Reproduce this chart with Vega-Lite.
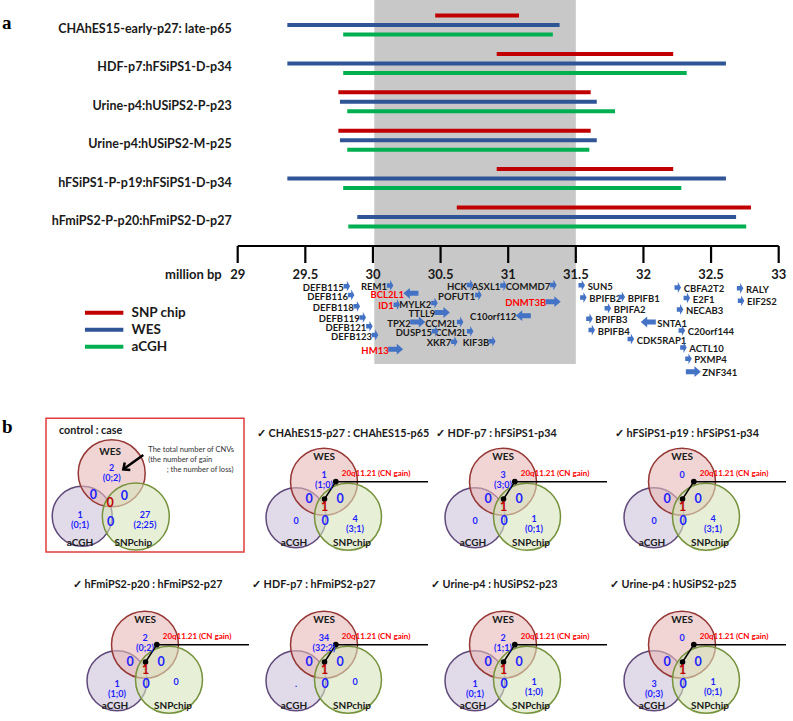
{
"$schema": "https://vega.github.io/schema/vega-lite/v6.json",
"padding": 0,
"background": "white",
"spacing": 0,
"bounds": "flush",
"config": {"view": {"stroke": null}, "axis": {"disable": true}, "font": "Lato", "text": {"font": "Lato"}},
"datasets": {
"cnv": [
{"sample":"CHAhES15-early-p27: late-p65","platform":"SNP chip","start":30.46,"end":31.08},
{"sample":"CHAhES15-early-p27: late-p65","platform":"WES","start":29.367,"end":31.38},
{"sample":"CHAhES15-early-p27: late-p65","platform":"aCGH","start":29.78,"end":31.33},
{"sample":"HDF-p7:hFSiPS1-D-p34","platform":"SNP chip","start":30.915,"end":32.22},
{"sample":"HDF-p7:hFSiPS1-D-p34","platform":"WES","start":29.367,"end":32.61},
{"sample":"HDF-p7:hFSiPS1-D-p34","platform":"aCGH","start":29.78,"end":32.32},
{"sample":"Urine-p4:hUSiPS2-P-p23","platform":"SNP chip","start":29.744,"end":31.61},
{"sample":"Urine-p4:hUSiPS2-P-p23","platform":"WES","start":29.756,"end":31.655},
{"sample":"Urine-p4:hUSiPS2-P-p23","platform":"aCGH","start":29.81,"end":31.79},
{"sample":"Urine-p4:hUSiPS2-M-p25","platform":"SNP chip","start":29.744,"end":31.61},
{"sample":"Urine-p4:hUSiPS2-M-p25","platform":"WES","start":29.756,"end":31.655},
{"sample":"Urine-p4:hUSiPS2-M-p25","platform":"aCGH","start":29.81,"end":31.6},
{"sample":"hFSiPS1-P-p19:hFSiPS1-D-p34","platform":"SNP chip","start":30.915,"end":32.22},
{"sample":"hFSiPS1-P-p19:hFSiPS1-D-p34","platform":"WES","start":29.367,"end":32.61},
{"sample":"hFSiPS1-P-p19:hFSiPS1-D-p34","platform":"aCGH","start":29.78,"end":32.28},
{"sample":"hFmiPS2-P-p20:hFmiPS2-D-p27","platform":"SNP chip","start":30.62,"end":32.795},
{"sample":"hFmiPS2-P-p20:hFmiPS2-D-p27","platform":"WES","start":29.884,"end":32.685},
{"sample":"hFmiPS2-P-p20:hFmiPS2-D-p27","platform":"aCGH","start":29.818,"end":32.76}
],
"ticks": [{"mb":29},{"mb":29.5},{"mb":30},{"mb":30.5},{"mb":31},{"mb":31.5},{"mb":32},{"mb":32.5},{"mb":33}],
"genes": [
{"g":"DEFB115","mb":29.806,"lane":4.42,"str":"+","side":"L","len":"short"},
{"g":"DEFB116","mb":29.838,"lane":5.3,"str":"+","side":"L","len":"short"},
{"g":"DEFB118","mb":29.88,"lane":6.43,"str":"+","side":"L","len":"short"},
{"g":"DEFB119","mb":29.924,"lane":7.55,"str":"+","side":"L","len":"short"},
{"g":"DEFB121","mb":29.973,"lane":8.43,"str":"+","side":"L","len":"short"},
{"g":"DEFB123","mb":30.015,"lane":9.3,"str":"+","side":"L","len":"short"},
{"g":"REM1","mb":30.126,"lane":4.35,"str":"+","side":"L","len":"short"},
{"g":"ID1","mb":30.176,"lane":6.27,"str":"+","side":"L","len":"short","hl":true},
{"g":"MYLK2","mb":30.454,"lane":6.1,"str":"+","side":"L","len":"short"},
{"g":"CCM2L","mb":30.644,"lane":8.0,"str":"+","side":"L","len":"short"},
{"g":"DUSP15","mb":30.459,"lane":8.93,"str":"+","side":"L","len":"short"},
{"g":"CCM2L","mb":30.718,"lane":8.93,"str":"+","side":"L","len":"short"},
{"g":"XKR7","mb":30.601,"lane":9.97,"str":"+","side":"L","len":"short"},
{"g":"KIF3B","mb":30.882,"lane":9.93,"str":"+","side":"L","len":"short"},
{"g":"HCK","mb":30.718,"lane":4.3,"str":"+","side":"L","len":"short"},
{"g":"ASXL1","mb":30.964,"lane":4.35,"str":"+","side":"L","len":"short"},
{"g":"POFUT1","mb":30.779,"lane":5.3,"str":"+","side":"L","len":"short"},
{"g":"COMMD7","mb":31.333,"lane":4.3,"str":"+","side":"L","len":"short"},
{"g":"HM13","mb":30.168,"lane":10.72,"str":"+","side":"L","len":"long","hl":true},
{"g":"BCL2L1","mb":30.281,"lane":5.13,"str":"-","side":"L","len":"long","hl":true},
{"g":"TTLL9","mb":30.513,"lane":7.05,"str":"+","side":"L","len":"long"},
{"g":"TPX2","mb":30.331,"lane":8.0,"str":"+","side":"L","len":"long"},
{"g":"C10orf112","mb":31.112,"lane":7.37,"str":"-","side":"L","len":"long"},
{"g":"DNMT3B","mb":31.333,"lane":5.97,"str":"+","side":"L","len":"long","hl":true},
{"g":"SUN5","mb":31.543,"lane":4.33,"str":"+","side":"R","len":"short"},
{"g":"BPIFB2","mb":31.555,"lane":5.55,"str":"+","side":"R","len":"short"},
{"g":"BPIFB1","mb":31.839,"lane":5.5,"str":"+","side":"R","len":"short"},
{"g":"BPIFA2","mb":31.736,"lane":6.63,"str":"+","side":"R","len":"short"},
{"g":"BPIFB3","mb":31.6,"lane":7.67,"str":"+","side":"R","len":"short"},
{"g":"BPIFB4","mb":31.617,"lane":8.8,"str":"+","side":"R","len":"short"},
{"g":"CDK5RAP1","mb":31.906,"lane":9.7,"str":"+","side":"R","len":"short"},
{"g":"CBFA2T2","mb":32.253,"lane":4.55,"str":"+","side":"R","len":"short"},
{"g":"E2F1","mb":32.32,"lane":5.6,"str":"+","side":"R","len":"short"},
{"g":"NECAB3","mb":32.27,"lane":6.75,"str":"+","side":"R","len":"short"},
{"g":"C20orf144","mb":32.283,"lane":8.85,"str":"+","side":"R","len":"short"},
{"g":"ACTL10","mb":32.295,"lane":10.55,"str":"+","side":"R","len":"short"},
{"g":"PXMP4","mb":32.332,"lane":11.68,"str":"+","side":"R","len":"short"},
{"g":"RALY","mb":32.714,"lane":4.63,"str":"+","side":"R","len":"short"},
{"g":"EIF2S2","mb":32.721,"lane":5.88,"str":"+","side":"R","len":"short"},
{"g":"SNTA1","mb":32.036,"lane":8.0,"str":"-","side":"R","len":"long"},
{"g":"ZNF341","mb":32.369,"lane":12.97,"str":"+","side":"R","len":"long"}
],
"layout": [
{"el":"WES","x":0,"y":0,"lx":0,"ly":-25},
{"el":"aCGH","x":-28,"y":36,"lx":-30,"ly":61},
{"el":"SNPchip","x":24,"y":35,"lx":28,"ly":61},
{"el":"W","x":0,"y":-7},
{"el":"WA","x":-15,"y":17},
{"el":"WS","x":16,"y":17},
{"el":"ALL","x":0.5,"y":25.5},
{"el":"AS","x":1,"y":39},
{"el":"A","x":-28,"y":39},
{"el":"S","x":31,"y":37},
{"el":"co1","x":0.5,"y":17.3},
{"el":"co2","x":11.8,"y":0},
{"el":"co3","x":104,"y":0},
{"el":"cn","x":17.8,"y":-7.3},
{"el":"title","x":-67,"y":-47.5},
{"el":"title2","x":-72,"y":-60},
{"el":"cWES","x":-33.3,"y":-8.4,"lx":-35,"ly":-30},
{"el":"caCGH","x":-62.8,"y":34.6,"lx":-65,"ly":61},
{"el":"cSNP","x":-9.2,"y":34.8,"lx":-11.7,"ly":61},
{"el":"cW","x":-33.3,"y":-13.9},
{"el":"cWA","x":-51.7,"y":13.3},
{"el":"cWS","x":-20.7,"y":14},
{"el":"cALL","x":-35,"y":21.6},
{"el":"cAS","x":-34.3,"y":40},
{"el":"cA","x":-65,"y":33},
{"el":"cS","x":0,"y":33},
{"el":"ar1","x":-1.7,"y":-26.7},
{"el":"ar2","x":-21.7,"y":-12.4},
{"el":"ann1","x":3.3,"y":-31.7},
{"el":"ann2","x":3.3,"y":-21.7},
{"el":"ann3","x":21.7,"y":-11.7},
{"el":"box","x":-99,"y":-63.4,"x2":99,"y2":70.3},
{"el":"ctitle","x":-86,"y":-51},
{"el":"b","x":-143,"y":-55}
],
"venn": [
{"d":"p1","k":"set","el":"caCGH","s":"aCGH"},
{"d":"p1","k":"set","el":"cWES","s":"WES"},
{"d":"p1","k":"set","el":"cSNP","s":"SNPchip"},
{"d":"p1","k":"n","el":"cW","t":"2\n(0;2)"},
{"d":"p1","k":"n","el":"cWA","t":"0"},
{"d":"p1","k":"n","el":"cWS","t":"0"},
{"d":"p1","k":"n","el":"cALL","t":"0"},
{"d":"p1","k":"n","el":"cAS","t":"0"},
{"d":"p1","k":"n","el":"cA","t":"1\n(0;1)"},
{"d":"p1","k":"n","el":"cS","t":"27\n(2;25)"},
{"d":"p1","k":"title","el":"ctitle","t":"control : case"},
{"d":"p1","k":"ar","el":"ar1"},
{"d":"p1","k":"ar","el":"ar2"},
{"d":"p1","k":"ann","el":"ann1","t":"The total number of CNVs"},
{"d":"p1","k":"ann","el":"ann2","t":"(the number of gain"},
{"d":"p1","k":"ann","el":"ann3","t":"; the number of loss)"},
{"d":"p1","k":"box","el":"box"},
{"d":"p1","k":"plabel","el":"b","t":"b"},

{"d":"p2","k":"title","el":"title","t":"✓ CHAhES15-p27 : CHAhES15-p65"},
{"d":"p2","k":"set","el":"aCGH","s":"aCGH"},{"d":"p2","k":"set","el":"WES","s":"WES"},{"d":"p2","k":"set","el":"SNPchip","s":"SNPchip"},
{"d":"p2","k":"n","el":"W","t":"1\n(1;0)"},{"d":"p2","k":"n","el":"WA","t":"0"},{"d":"p2","k":"n","el":"WS","t":"0"},{"d":"p2","k":"n","el":"ALL","t":"1"},{"d":"p2","k":"n","el":"AS","t":"0"},{"d":"p2","k":"n","el":"A","t":"0"},{"d":"p2","k":"n","el":"S","t":"4\n(3;1)"},
{"d":"p2","k":"co","el":"co1"},{"d":"p2","k":"co","el":"co2"},{"d":"p2","k":"co","el":"co3"},{"d":"p2","k":"cn","el":"cn","t":"20q11.21 (CN gain)"},

{"d":"p3","k":"title","el":"title","t":"✓ HDF-p7 : hFSiPS1-p34"},
{"d":"p3","k":"set","el":"aCGH","s":"aCGH"},{"d":"p3","k":"set","el":"WES","s":"WES"},{"d":"p3","k":"set","el":"SNPchip","s":"SNPchip"},
{"d":"p3","k":"n","el":"W","t":"3\n(3;0)"},{"d":"p3","k":"n","el":"WA","t":"0"},{"d":"p3","k":"n","el":"WS","t":"0"},{"d":"p3","k":"n","el":"ALL","t":"1"},{"d":"p3","k":"n","el":"AS","t":"0"},{"d":"p3","k":"n","el":"A","t":"0"},{"d":"p3","k":"n","el":"S","t":"1\n(0;1)"},
{"d":"p3","k":"co","el":"co1"},{"d":"p3","k":"co","el":"co2"},{"d":"p3","k":"co","el":"co3"},{"d":"p3","k":"cn","el":"cn","t":"20q11.21 (CN gain)"},

{"d":"p4","k":"title","el":"title","t":"✓ hFSiPS1-p19 : hFSiPS1-p34"},
{"d":"p4","k":"set","el":"aCGH","s":"aCGH"},{"d":"p4","k":"set","el":"WES","s":"WES"},{"d":"p4","k":"set","el":"SNPchip","s":"SNPchip"},
{"d":"p4","k":"n","el":"W","t":"0"},{"d":"p4","k":"n","el":"WA","t":"0"},{"d":"p4","k":"n","el":"WS","t":"0"},{"d":"p4","k":"n","el":"ALL","t":"1"},{"d":"p4","k":"n","el":"AS","t":"0"},{"d":"p4","k":"n","el":"A","t":"0"},{"d":"p4","k":"n","el":"S","t":"4\n(3;1)"},
{"d":"p4","k":"co","el":"co1"},{"d":"p4","k":"co","el":"co2"},{"d":"p4","k":"co","el":"co3"},{"d":"p4","k":"cn","el":"cn","t":"20q11.21 (CN gain)"},

{"d":"p5","k":"title","el":"title2","t":"✓ hFmiPS2-p20 : hFmiPS2-p27"},
{"d":"p5","k":"set","el":"aCGH","s":"aCGH"},{"d":"p5","k":"set","el":"WES","s":"WES"},{"d":"p5","k":"set","el":"SNPchip","s":"SNPchip"},
{"d":"p5","k":"n","el":"W","t":"2\n(0;2)"},{"d":"p5","k":"n","el":"WA","t":"0"},{"d":"p5","k":"n","el":"WS","t":"0"},{"d":"p5","k":"n","el":"ALL","t":"1"},{"d":"p5","k":"n","el":"AS","t":"0"},{"d":"p5","k":"n","el":"A","t":"1\n(1;0)"},{"d":"p5","k":"n","el":"S","t":"0"},
{"d":"p5","k":"co","el":"co1"},{"d":"p5","k":"co","el":"co2"},{"d":"p5","k":"co","el":"co3"},{"d":"p5","k":"cn","el":"cn","t":"20q11.21 (CN gain)"},

{"d":"p6","k":"title","el":"title2","t":"✓ HDF-p7 : hFmiPS2-p27"},
{"d":"p6","k":"set","el":"aCGH","s":"aCGH"},{"d":"p6","k":"set","el":"WES","s":"WES"},{"d":"p6","k":"set","el":"SNPchip","s":"SNPchip"},
{"d":"p6","k":"n","el":"W","t":"34\n(32;2)"},{"d":"p6","k":"n","el":"WA","t":"0"},{"d":"p6","k":"n","el":"WS","t":"0"},{"d":"p6","k":"n","el":"ALL","t":"1"},{"d":"p6","k":"n","el":"AS","t":"0"},{"d":"p6","k":"n","el":"A","t":"."},{"d":"p6","k":"n","el":"S","t":"0"},
{"d":"p6","k":"co","el":"co1"},{"d":"p6","k":"co","el":"co2"},{"d":"p6","k":"co","el":"co3"},{"d":"p6","k":"cn","el":"cn","t":"20q11.21 (CN gain)"},

{"d":"p7","k":"title","el":"title2","t":"✓ Urine-p4 : hUSiPS2-p23"},
{"d":"p7","k":"set","el":"aCGH","s":"aCGH"},{"d":"p7","k":"set","el":"WES","s":"WES"},{"d":"p7","k":"set","el":"SNPchip","s":"SNPchip"},
{"d":"p7","k":"n","el":"W","t":"2\n(1;1)"},{"d":"p7","k":"n","el":"WA","t":"0"},{"d":"p7","k":"n","el":"WS","t":"0"},{"d":"p7","k":"n","el":"ALL","t":"1"},{"d":"p7","k":"n","el":"AS","t":"0"},{"d":"p7","k":"n","el":"A","t":"1\n(0;1)"},{"d":"p7","k":"n","el":"S","t":"1\n(1;0)"},
{"d":"p7","k":"co","el":"co1"},{"d":"p7","k":"co","el":"co2"},{"d":"p7","k":"co","el":"co3"},{"d":"p7","k":"cn","el":"cn","t":"20q11.21 (CN gain)"},

{"d":"p8","k":"title","el":"title2","t":"✓ Urine-p4 : hUSiPS2-p25"},
{"d":"p8","k":"set","el":"aCGH","s":"aCGH"},{"d":"p8","k":"set","el":"WES","s":"WES"},{"d":"p8","k":"set","el":"SNPchip","s":"SNPchip"},
{"d":"p8","k":"n","el":"W","t":"0"},{"d":"p8","k":"n","el":"WA","t":"0"},{"d":"p8","k":"n","el":"WS","t":"0"},{"d":"p8","k":"n","el":"ALL","t":"1"},{"d":"p8","k":"n","el":"AS","t":"0"},{"d":"p8","k":"n","el":"A","t":"3\n(0;3)"},{"d":"p8","k":"n","el":"S","t":"1\n(0;1)"},
{"d":"p8","k":"co","el":"co1"},{"d":"p8","k":"co","el":"co2"},{"d":"p8","k":"co","el":"co3"},{"d":"p8","k":"cn","el":"cn","t":"20q11.21 (CN gain)"}
]
},
"vconcat": [
{
"width": 793, "height": 242,
"title": {"text": "a", "anchor": "start", "frame": "group", "offset": -27, "dx": 2, "dy": 21, "baseline": "alphabetic", "font": "Liberation Serif", "fontSize": 19, "fontWeight": "bold", "color": "#000000"},
"data": {"name": "cnv"},
"layer": [
{"data": {"values": [{"start": 30.01, "end": 31.5}]},
 "mark": {"type": "rect", "color": "#c8c8c8"},
 "encoding": {"x": {"field": "start", "type": "quantitative", "scale": {"domain": [27.2425, 33.1058], "nice": false, "zero": false}, "axis": null}, "x2": {"field": "end"}}},
{"mark": {"type": "bar"},
 "encoding": {
  "x": {"field": "start", "type": "quantitative", "axis": null},
  "x2": {"field": "end"},
  "y": {"field": "sample", "type": "nominal", "axis": null, "scale": {"domain": ["CHAhES15-early-p27: late-p65","HDF-p7:hFSiPS1-D-p34","Urine-p4:hUSiPS2-P-p23","Urine-p4:hUSiPS2-M-p25","hFSiPS1-P-p19:hFSiPS1-D-p34","hFmiPS2-P-p20:hFmiPS2-D-p27"], "paddingInner": 0, "paddingOuter": 0.152}},
  "yOffset": {"field": "platform", "type": "nominal", "scale": {"domain": ["SNP chip","WES","aCGH"], "paddingInner": 0.579, "paddingOuter": 0.807}},
  "color": {"field": "platform", "type": "nominal", "scale": {"domain": ["SNP chip","WES","aCGH"], "range": ["#c00000","#2f5597","#00b050"]},
   "legend": {"orient": "none", "legendX": 97.4, "legendY": 306, "title": null, "symbolType": "M-3.2,-0.35L3.2,-0.35L3.2,0.35L-3.2,0.35Z", "symbolSize": 144, "symbolStrokeWidth": 0, "symbolOpacity": 1, "labelOffset": 20.6, "labelFont": "Lato", "labelFontSize": 13.5, "labelFontWeight": "bold", "labelColor": "#1a1a1a", "rowPadding": 2, "padding": 0}}
 }},
{"transform": [{"filter": "datum.platform == 'WES'"}],
 "mark": {"type": "text", "align": "right", "baseline": "middle", "dx": -6, "dy": 4, "fontSize": 12.5, "fontWeight": "bold", "color": "#1a1a1a", "font": "Lato"},
 "encoding": {"x": {"datum": 29, "type": "quantitative", "axis": null}, "y": {"field": "sample", "type": "nominal", "axis": null}, "text": {"field": "sample"}}}
]
},
{
"width": 793, "height": 133,
"data": {"name": "genes"},
"layer": [
{"data": {"values": [{"start": 30.01, "end": 31.5}]},
 "mark": {"type": "rect", "color": "#c8c8c8"},
 "encoding": {"x": {"field": "start", "type": "quantitative", "scale": {"domain": [27.2425, 33.1058], "nice": false, "zero": false}, "axis": null}, "x2": {"field": "end"},
  "y": {"datum": 0, "type": "quantitative", "scale": {"domain": [0, 13.3], "reverse": true, "nice": false, "zero": false}, "axis": null}, "y2": {"datum": 12.2}}},
{"data": {"values": [{"from": 29, "to": 33}]},
 "mark": {"type": "rule", "color": "#000000", "strokeWidth": 2.2},
 "encoding": {"x": {"field": "from", "type": "quantitative", "axis": null}, "x2": {"field": "to"}, "y": {"datum": 0.4, "type": "quantitative", "axis": null}}},
{"data": {"name": "ticks"},
 "mark": {"type": "rule", "color": "#000000", "strokeWidth": 2.2},
 "encoding": {"x": {"field": "mb", "type": "quantitative", "axis": null}, "y": {"datum": 0.4, "type": "quantitative", "axis": null}, "y2": {"datum": 2.1}}},
{"data": {"name": "ticks"},
 "mark": {"type": "text", "fontSize": 13, "fontWeight": "bold", "color": "#1a1a1a"},
 "encoding": {"x": {"field": "mb", "type": "quantitative", "axis": null}, "y": {"datum": 3.3, "type": "quantitative", "axis": null}, "text": {"field": "mb", "type": "nominal"}}},
{"data": {"values": [{"unit": "million bp"}]},
 "mark": {"type": "text", "align": "right", "dx": -16, "fontSize": 13, "fontWeight": "bold", "color": "#1a1a1a"},
 "encoding": {"x": {"datum": 29, "type": "quantitative", "axis": null}, "y": {"datum": 3.3, "type": "quantitative", "axis": null}, "text": {"field": "unit"}}},
{"transform": [{"filter": "datum.side == 'L' && datum.len == 'short'"}],
 "mark": {"type": "text", "align": "right", "dx": -3, "dy": 1.5, "fontSize": 9.5, "fontWeight": "bold"},
 "encoding": {"x": {"field": "mb", "type": "quantitative", "axis": null}, "y": {"field": "lane", "type": "quantitative", "axis": null}, "text": {"field": "g"},
  "color": {"condition": {"test": "datum.hl", "value": "#ff0000"}, "value": "#1a1a1a"}}},
{"transform": [{"filter": "datum.side == 'L' && datum.len == 'long'"}],
 "mark": {"type": "text", "align": "right", "dx": -7, "dy": 1.5, "fontSize": 9.5, "fontWeight": "bold"},
 "encoding": {"x": {"field": "mb", "type": "quantitative", "axis": null}, "y": {"field": "lane", "type": "quantitative", "axis": null}, "text": {"field": "g"},
  "color": {"condition": {"test": "datum.hl", "value": "#ff0000"}, "value": "#1a1a1a"}}},
{"transform": [{"filter": "datum.side == 'R' && datum.len == 'short'"}],
 "mark": {"type": "text", "align": "left", "dx": 6, "dy": 1.5, "fontSize": 9.5, "fontWeight": "bold"},
 "encoding": {"x": {"field": "mb", "type": "quantitative", "axis": null}, "y": {"field": "lane", "type": "quantitative", "axis": null}, "text": {"field": "g"},
  "color": {"condition": {"test": "datum.hl", "value": "#ff0000"}, "value": "#1a1a1a"}}},
{"transform": [{"filter": "datum.side == 'R' && datum.len == 'long'"}],
 "mark": {"type": "text", "align": "left", "dx": 9, "dy": 1.5, "fontSize": 9.5, "fontWeight": "bold"},
 "encoding": {"x": {"field": "mb", "type": "quantitative", "axis": null}, "y": {"field": "lane", "type": "quantitative", "axis": null}, "text": {"field": "g"},
  "color": {"condition": {"test": "datum.hl", "value": "#ff0000"}, "value": "#1a1a1a"}}},
{"transform": [{"filter": "datum.str == '+'"}],
 "mark": {"type": "point", "filled": true, "color": "#4472c4", "opacity": 1, "size": 225, "strokeWidth": 0},
 "encoding": {"x": {"field": "mb", "type": "quantitative", "axis": null}, "y": {"field": "lane", "type": "quantitative", "axis": null},
  "shape": {"field": "len", "type": "nominal", "scale": {"domain": ["long","short"], "range": ["M-1,-0.33L0.15,-0.33L0.15,-0.72L1,0L0.15,0.72L0.15,0.33L-1,0.33Z", "M-0.42,-0.3L0.02,-0.3L0.02,-0.72L0.45,0L0.02,0.72L0.02,0.3L-0.42,0.3Z"]}, "legend": null}}},
{"transform": [{"filter": "datum.str == '-'"}],
 "mark": {"type": "point", "filled": true, "color": "#4472c4", "opacity": 1, "size": 225, "strokeWidth": 0, "angle": 180, "shape": "M-1,-0.33L0.15,-0.33L0.15,-0.72L1,0L0.15,0.72L0.15,0.33L-1,0.33Z"},
 "encoding": {"x": {"field": "mb", "type": "quantitative", "axis": null}, "y": {"field": "lane", "type": "quantitative", "axis": null}}}
]
},
{
"data": {"name": "venn"},
"transform": [{"lookup": "el", "from": {"data": {"name": "layout"}, "key": "el", "fields": ["x","y","x2","y2","lx","ly"]}}],
"facet": {"field": "d", "type": "nominal", "header": {"title": null, "labelExpr": "''", "labelFontSize": 0, "labelPadding": 0}},
"columns": 4,
"spacing": {"row": 0, "column": 0},
"bounds": "flush",
"spec": {
"width": 179, "height": 163,
"encoding": {
 "x": {"field": "x", "type": "quantitative", "scale": {"domain": [-145, 34], "nice": false, "zero": false}, "axis": null},
 "y": {"field": "y", "type": "quantitative", "scale": {"domain": [-106.7, 56.3], "reverse": true, "nice": false, "zero": false}, "axis": null}
},
"layer": [
{"transform": [{"filter": "datum.k == 'box'"}],
 "mark": {"type": "rect", "fillOpacity": 0, "stroke": "#e03c3c", "strokeWidth": 1.5},
 "encoding": {"x2": {"field": "x2"}, "y2": {"field": "y2"}}},
{"transform": [{"filter": "datum.k == 'set' && datum.s == 'aCGH'"}],
 "mark": {"type": "point", "shape": "circle", "filled": true, "size": 3600, "opacity": 1, "fillOpacity": 0.6, "strokeOpacity": 1, "strokeWidth": 1.5},
 "encoding": {
  "fill": {"field": "s", "type": "nominal", "scale": {"domain": ["WES","aCGH","SNPchip"], "range": ["#e6b9b8","#ccc1da","#d7e4bd"]}, "legend": null},
  "stroke": {"field": "s", "type": "nominal", "scale": {"domain": ["WES","aCGH","SNPchip"], "range": ["#953735","#5f497a","#76923c"]}, "legend": null}}},
{"transform": [{"filter": "datum.k == 'set' && datum.s != 'aCGH'"}],
 "mark": {"type": "point", "shape": "circle", "filled": true, "size": 4489, "opacity": 1, "fillOpacity": 0.6, "strokeOpacity": 1, "strokeWidth": 1.5},
 "encoding": {
  "fill": {"field": "s", "type": "nominal", "legend": null},
  "stroke": {"field": "s", "type": "nominal", "legend": null}}},
{"transform": [{"filter": "datum.k == 'co'"}],
 "mark": {"type": "line", "color": "#000000", "strokeWidth": 1.5}},
{"transform": [{"filter": "datum.k == 'co' && datum.el != 'co3'"}],
 "mark": {"type": "point", "filled": true, "color": "#000000", "opacity": 1, "size": 32}},
{"transform": [{"filter": "datum.k == 'ar'"}],
 "mark": {"type": "line", "color": "#000000", "strokeWidth": 2.5}},
{"transform": [{"filter": "datum.el == 'ar2'"}],
 "mark": {"type": "point", "filled": false, "shape": "M-1,-0.9L0,0L-1,0.9", "angle": 144, "size": 110, "color": "#000000", "opacity": 1, "strokeWidth": 2.5}},
{"transform": [{"filter": "datum.k == 'set'"}],
 "mark": {"type": "text", "fontSize": 10, "fontWeight": "bold", "color": "#1a1a1a"},
 "encoding": {"x": {"field": "lx", "type": "quantitative"}, "y": {"field": "ly", "type": "quantitative"}, "text": {"field": "s"}}},
{"transform": [{"filter": "datum.k == 'n' && indexof(['W','A','S','cW','cA','cS'], datum.el) >= 0"}],
 "mark": {"type": "text", "fontSize": 9, "fontWeight": "bold", "color": "#1e1eff", "lineBreak": "\n", "lineHeight": 10},
 "encoding": {"text": {"field": "t"}}},
{"transform": [{"filter": "datum.k == 'n' && indexof(['WA','WS','AS','cWA','cWS','cAS'], datum.el) >= 0"}],
 "mark": {"type": "text", "fontSize": 12.5, "fontWeight": "bold", "color": "#1e1eff"},
 "encoding": {"text": {"field": "t"}}},
{"transform": [{"filter": "datum.k == 'n' && indexof(['ALL','cALL'], datum.el) >= 0"}],
 "mark": {"type": "text", "fontSize": 12.5, "fontWeight": "bold", "color": "#c00000"},
 "encoding": {"text": {"field": "t"}}},
{"transform": [{"filter": "datum.k == 'cn'"}],
 "mark": {"type": "text", "align": "left", "fontSize": 8, "fontWeight": "bold", "color": "#ff0000"},
 "encoding": {"text": {"field": "t"}}},
{"transform": [{"filter": "datum.k == 'title'"}],
 "mark": {"type": "text", "align": "left", "fontSize": 10.8, "fontWeight": "bold", "color": "#1a1a1a"},
 "encoding": {"text": {"field": "t"}}},
{"transform": [{"filter": "datum.k == 'ann'"}],
 "mark": {"type": "text", "align": "left", "fontSize": 7.5, "color": "#333333"},
 "encoding": {"text": {"field": "t"}}},
{"transform": [{"filter": "datum.k == 'plabel'"}],
 "mark": {"type": "text", "align": "left", "font": "Liberation Serif", "fontSize": 19, "fontWeight": "bold", "color": "#000000"},
 "encoding": {"text": {"field": "t"}}}
]
}
}
]
}
